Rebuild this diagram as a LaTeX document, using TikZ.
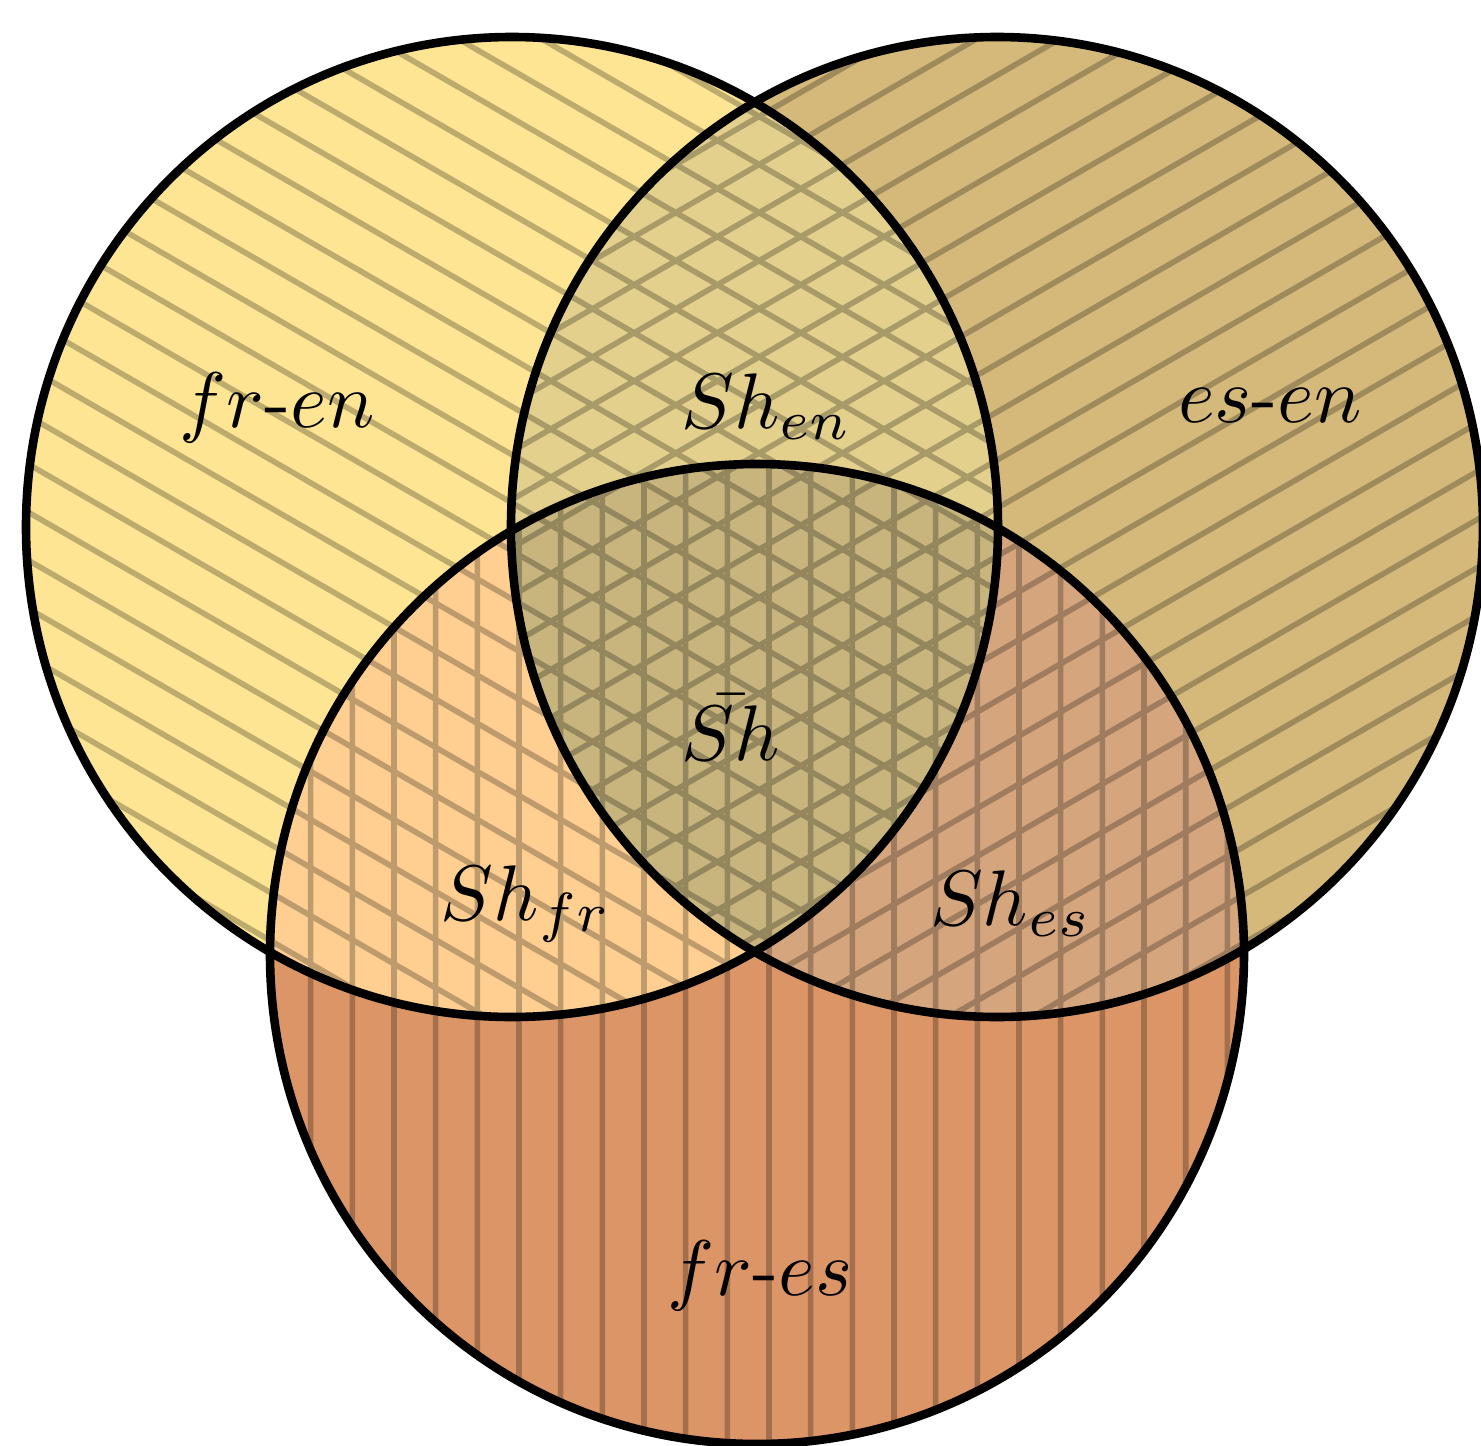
\documentclass[tikz,border=0pt]{standalone}
\definecolor{cA}{HTML}{FDE594}
\definecolor{cB}{HTML}{D4B97A}
\definecolor{cC}{HTML}{DC9566}
\definecolor{cAB}{HTML}{E2D08C}
\definecolor{cAC}{HTML}{FECF91}
\definecolor{cBC}{HTML}{D5A67D}
\definecolor{cABC}{HTML}{C8B57D}
\tikzset{
  hatchline/.style={line width=1.4pt, draw=black},
  rim/.style={line width=2.15pt, draw=black},
  lbl/.style={anchor=base, inner sep=0pt, font=\normalsize, scale=1.97},
}
\begin{document}
\begin{tikzpicture}[x=0.25pt,y=-0.25pt]
\useasboundingbox (0,0) rectangle (1481,1446);
\def\cirA{(512,527) ellipse [x radius=486, y radius=490]}
\def\cirB{(997,527) ellipse [x radius=486, y radius=490]}
\def\cirC{(757,954) ellipse [x radius=487, y radius=490]}
% region fills
\fill[cA] \cirA;
\fill[cB] \cirB;
\fill[cC] \cirC;
\begin{scope}
  \clip \cirB;
  \fill[cBC] \cirC;
\end{scope}
\begin{scope}
  \clip \cirA;
  \fill[cAB] \cirB;
  \fill[cAC] \cirC;
  \clip \cirB;
  \fill[cABC] \cirC;
\end{scope}
% hatching
\begin{scope}[transparency group, opacity=0.25]
  \begin{scope}
    \clip \cirA;
    \foreach \k in {-20,...,20}
      \draw[hatchline] (0,{255.4+48.1*\k}) -- (1481,{255.4+48.1*\k+854.9});
  \end{scope}
  \begin{scope}
    \clip \cirB;
    \foreach \k in {-20,...,20}
      \draw[hatchline] (0,{1035.6+48.1*\k}) -- (1481,{1035.6+48.1*\k-854.9});
  \end{scope}
  \begin{scope}
    \clip \cirC;
    \foreach \k in {-13,...,13}
      \draw[hatchline] ({769+41.67*\k},400) -- ({769+41.67*\k},1446);
  \end{scope}
\end{scope}
% rims
\draw[rim] \cirA;
\draw[rim] \cirB;
\draw[rim] \cirC;
% labels
\node[lbl] (frEn) at (277,427) {$fr$-$en$};
\node[lbl] (esEn) at (1270,422) {$es$-$en$};
\node[lbl] (frEs) at (760,1295) {$fr$-$es$};
\node[lbl] (shEn) at (767,428) {$Sh_{en}$};
\node[lbl] (shFr) at (526,920) {$Sh_{fr}$};
\node[lbl] (shEs) at (1011,925) {$Sh_{es}$};
\node[lbl] (shBar) at (731,760) {$\bar{Sh}$};
\end{tikzpicture}
\end{document}
